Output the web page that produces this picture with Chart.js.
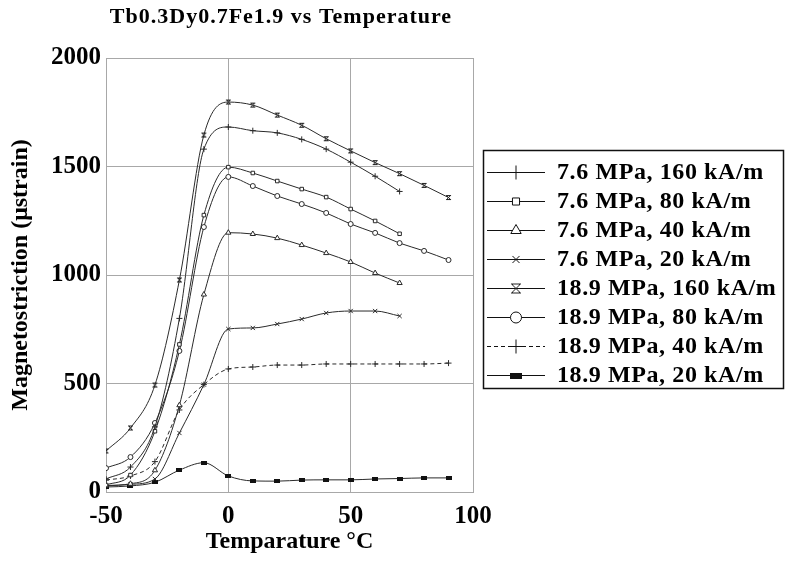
<!DOCTYPE html>
<html><head><meta charset="utf-8">
<script src="https://cdn.jsdelivr.net/npm/chart.js@4.4.1/dist/chart.umd.min.js"></script>
<style>html,body{margin:0;padding:0;background:#fff;}#wrap{width:788px;height:563px;position:relative;}</style>
</head><body><div id="wrap"><canvas id="c" width="788" height="563"></canvas></div>
<script>
const titleText = 'Tb0.3Dy0.7Fe1.9 vs Temperature';
const xTitle = 'Temparature °C';
const yTitle = 'Magnetostriction (μstrain)';
const xTicks = [-50, 0, 50, 100];
const yTicks = [0, 500, 1000, 1500, 2000];
const temps76 = [-50,-40,-30,-20,-10,0,10,20,30,40,50,60,70];
const temps189 = [-50,-40,-30,-20,-10,0,10,20,30,40,50,60,70,80,90];
const seriesLabels = ['7.6 MPa, 160 kA/m','7.6 MPa, 80 kA/m','7.6 MPa, 40 kA/m','7.6 MPa, 20 kA/m','18.9 MPa, 160 kA/m','18.9 MPa, 80 kA/m','18.9 MPa, 40 kA/m','18.9 MPa, 20 kA/m'];
const mpa76_160 = [60,115,300,800,1580,1682,1665,1655,1625,1580,1520,1455,1385];
const mpa76_80  = [32,78,280,680,1276,1497,1470,1433,1396,1359,1304,1249,1190];
const mpa76_40  = [30,38,100,400,910,1195,1189,1170,1138,1101,1060,1009,963];
const mpa76_20  = [28,35,60,272,495,751,756,774,797,825,834,834,811];
const mpa189_160 = [189,295,493,977,1645,1797,1783,1737,1690,1628,1572,1518,1467,1413,1357];
const mpa189_80  = [110,161,318,650,1221,1452,1410,1364,1327,1286,1235,1194,1147,1111,1069];
const mpa189_40  = [55,74,140,378,495,567,576,585,585,590,590,590,590,590,594];
const mpa189_20  = [23,28,45,101,135,74,51,50,55,56,56,60,62,65,65];

function makeHourglass(s){
  const c=document.createElement('canvas');c.width=s;c.height=s;const g=c.getContext('2d');
  g.strokeStyle='#222';g.lineWidth=1;
  g.beginPath();g.moveTo(1,1.5);g.lineTo(s-1,1.5);g.moveTo(1,s-1.5);g.lineTo(s-1,s-1.5);
  g.moveTo(1.5,1.5);g.lineTo(s-1.5,s-1.5);g.moveTo(s-1.5,1.5);g.lineTo(1.5,s-1.5);g.stroke();return c;
}
function makeBar(w,h){
  const c=document.createElement('canvas');c.width=w;c.height=h;const g=c.getContext('2d');
  g.fillStyle='#111';g.fillRect(0,0,w,h);return c;
}
const hgSmall=makeHourglass(7), hgBig=makeHourglass(12);
const barSmall=makeBar(6,4), barBig=makeBar(12,6);

const seriesData=[mpa76_160,mpa76_80,mpa76_40,mpa76_20,mpa189_160,mpa189_80,mpa189_40,mpa189_20];
const seriesX=[temps76,temps76,temps76,temps76,temps189,temps189,temps189,temps189];
const styles=[
 {ps:'cross',r:3,lps:'cross',lr:7,dash:[]},
 {ps:'rect',r:2.5,lps:'rect',lr:5,dash:[]},
 {ps:'triangle',r:3,lps:'triangle',lr:6,dash:[]},
 {ps:'crossRot',r:3,lps:'crossRot',lr:5,dash:[]},
 {ps:hgSmall,r:3,lps:hgBig,lr:6,dash:[]},
 {ps:'circle',r:2.5,lps:'circle',lr:5.5,dash:[]},
 {ps:'cross',r:3,lps:'cross',lr:7,dash:[4,3]},
 {ps:barSmall,r:3,lps:barBig,lr:6,dash:[]}
];
const datasets=seriesData.map((d,i)=>({
  label:seriesLabels[i],
  data:d.map((v,j)=>({x:seriesX[i][j],y:v})),
  borderColor:'#2a2a2a',backgroundColor:'#fff',borderWidth:1,
  borderDash:styles[i].dash,
  pointStyle:styles[i].ps,pointRadius:styles[i].r,pointBorderColor:'#2a2a2a',pointBackgroundColor:'#fff',pointBorderWidth:1,
  cubicInterpolationMode:'monotone',fill:false
}));

const titlePlugin={id:'customTitle',afterDraw(chart){
  const ctx=chart.ctx;ctx.save();ctx.fillStyle='#000';ctx.font='bold 22px "Liberation Serif"';
  ctx.letterSpacing='1px';
  ctx.textAlign='center';ctx.textBaseline='middle';ctx.fillText(titleText,281,17);ctx.restore();
}};
const legendPlugin={id:'customLegend',afterDraw(chart){
  const ctx=chart.ctx;ctx.save();
  ctx.strokeStyle='#111';ctx.lineWidth=1.5;ctx.strokeRect(483.5,150.5,300,238);
  ctx.font='bold 24px "Liberation Serif"';ctx.letterSpacing='0.6px';ctx.textBaseline='middle';ctx.textAlign='left';
  for(let i=0;i<seriesLabels.length;i++){
    const y=172+i*29;
    ctx.strokeStyle='#111';ctx.lineWidth=1.2;ctx.setLineDash(styles[i].dash);
    ctx.beginPath();ctx.moveTo(487,y+0.5);ctx.lineTo(545,y+0.5);ctx.stroke();ctx.setLineDash([]);
    ctx.fillStyle='#fff';ctx.strokeStyle='#111';ctx.lineWidth=1;
    Chart.helpers.drawPoint(ctx,{pointStyle:styles[i].lps,radius:styles[i].lr,rotation:0,borderWidth:1},516,y+0.5);
    ctx.fillStyle='#000';ctx.fillText(seriesLabels[i],557,y+1);
  }
  ctx.restore();
}};

new Chart(document.getElementById('c'),{
  type:'line',
  data:{datasets},
  options:{
    responsive:false,animation:false,
    layout:{padding:{top:58,right:315,left:0,bottom:0}},
    plugins:{legend:{display:false},tooltip:{enabled:false},title:{display:false}},
    scales:{
      x:{type:'linear',min:-50,max:100,
        afterBuildTicks(s){s.ticks=xTicks.map(v=>({value:v}));},
        afterFit(s){s.height=71;},
        grid:{color:'#a8a8a8',lineWidth:1,drawTicks:false},border:{color:'#a8a8a8'},
        ticks:{color:'#000',padding:10,maxRotation:0,callback:v=>String(v),font:{family:'Liberation Serif',size:25,weight:'bold'}},
        title:{display:true,text:xTitle,color:'#000',padding:{top:0,bottom:7},font:{family:'Liberation Serif',size:24,weight:'bold'}}
      },
      y:{type:'linear',min:0,max:2000,
        afterBuildTicks(s){s.ticks=yTicks.map(v=>({value:v}));},
        afterFit(s){s.width=106;},
        grid:{color:'#a8a8a8',lineWidth:1,drawTicks:false},border:{color:'#a8a8a8'},
        ticks:{color:'#000',padding:5,callback:v=>String(v),font:{family:'Liberation Serif',size:25,weight:'bold'}},
        title:{display:true,text:yTitle,color:'#000',padding:{top:6,bottom:0},font:{family:'Liberation Serif',size:24,weight:'bold'}}
      }
    }
  },
  plugins:[titlePlugin,legendPlugin]
});
</script></body></html>
